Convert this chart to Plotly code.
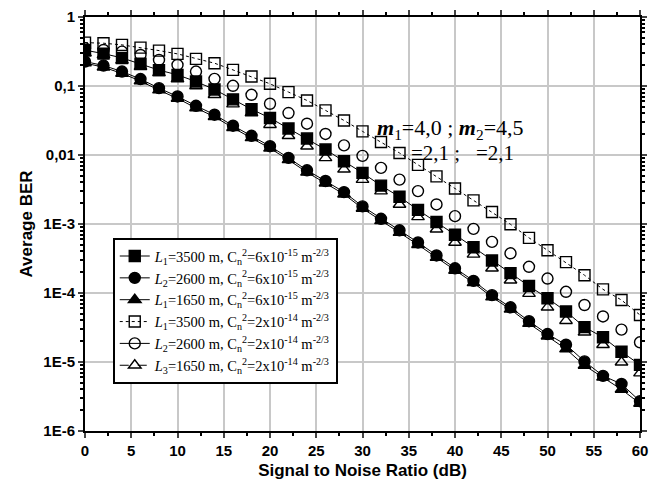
import plotly.graph_objects as go

snr = list(range(0, 62, 2))

# L1=3500 m, Cn2=6e-15 (filled squares)
ber_sq_f = [0.33, 0.295, 0.255, 0.21, 0.17, 0.145, 0.116, 0.089, 0.064, 0.046, 0.0344,
            0.0242, 0.0173, 0.012, 0.0081, 0.0055, 0.0036, 0.00248, 0.0016, 0.00107, 0.0007,
            0.00046, 0.000296, 0.000194, 0.000126, 8.4e-05, 5.4e-05, 3.2e-05, 2.28e-05, 1.41e-05, 9.1e-06]
# L2=2600 m, Cn2=6e-15 (filled circles)
ber_ci_f = [0.226, 0.198, 0.162, 0.126, 0.093, 0.0705, 0.0517, 0.0384, 0.0266, 0.019, 0.0134,
            0.0091, 0.006, 0.0042, 0.0029, 0.0018, 0.00119, 0.00081, 0.00054, 0.00035, 0.000228,
            0.00015, 9.3e-05, 6.2e-05, 3.9e-05, 2.54e-05, 1.78e-05, 1.02e-05, 6.3e-06, 4.8e-06, 2.7e-06]
# L1=1650 m, Cn2=6e-15 (filled triangles)
ber_tr_f = [0.215, 0.187, 0.152, 0.118, 0.087, 0.066, 0.048, 0.0358, 0.0248, 0.0177, 0.0125,
            0.0085, 0.0056, 0.0039, 0.0027, 0.00168, 0.00111, 0.00075, 0.0005, 0.000326, 0.000212,
            0.00014, 8.7e-05, 5.8e-05, 3.6e-05, 2.36e-05, 1.54e-05, 8.9e-06, 6.0e-06, 4.0e-06, 2.5e-06]
# L1=3500 m, Cn2=2e-14 (open squares)
ber_sq_o = [0.425, 0.417, 0.394, 0.36, 0.326, 0.292, 0.247, 0.214, 0.171, 0.137, 0.1076,
            0.0816, 0.0617, 0.0443, 0.0317, 0.022, 0.0154, 0.0107, 0.0072, 0.0049, 0.00327,
            0.0022, 0.00149, 0.00099, 0.00063, 0.000417, 0.00028, 0.000181, 0.000113, 7.9e-05, 4.8e-05]
# L2=2600 m, Cn2=2e-14 (open circles)
ber_ci_o = [0.352, 0.333, 0.315, 0.282, 0.239, 0.202, 0.162, 0.127, 0.1006, 0.0746, 0.0553,
            0.0406, 0.0284, 0.0202, 0.0138, 0.0097, 0.0065, 0.0044, 0.003, 0.00192, 0.0013,
            0.00085, 0.00055, 0.000376, 0.00024, 0.000162, 0.000104, 6.7e-05, 4.57e-05, 2.95e-05, 1.93e-05]
# L3=1650 m, Cn2=2e-14 (open triangles)
ber_tr_o = [0.3, 0.282, 0.235, 0.19, 0.155, 0.126, 0.1, 0.0746, 0.0547, 0.0406, 0.0275,
            0.019, 0.0134, 0.0091, 0.0062, 0.0044, 0.003, 0.00192, 0.00127, 0.00084, 0.00054,
            0.000363, 0.000228, 0.000153, 9.8e-05, 6.2e-05, 3.97e-05, 2.7e-05, 1.78e-05, 9.9e-06, 6.9e-06]

names = [
    "<i>L</i><sub>1</sub>=3500 m, C<sub>n</sub><sup>2</sup>=6x10<sup>-15</sup> m<sup>-2/3</sup>",
    "<i>L</i><sub>2</sub>=2600 m, C<sub>n</sub><sup>2</sup>=6x10<sup>-15</sup> m<sup>-2/3</sup>",
    "<i>L</i><sub>1</sub>=1650 m, C<sub>n</sub><sup>2</sup>=6x10<sup>-15</sup> m<sup>-2/3</sup>",
    "<i>L</i><sub>1</sub>=3500 m, C<sub>n</sub><sup>2</sup>=2x10<sup>-14</sup> m<sup>-2/3</sup>",
    "<i>L</i><sub>2</sub>=2600 m, C<sub>n</sub><sup>2</sup>=2x10<sup>-14</sup> m<sup>-2/3</sup>",
    "<i>L</i><sub>3</sub>=1650 m, C<sub>n</sub><sup>2</sup>=2x10<sup>-14</sup> m<sup>-2/3</sup>",
]

ytick_vals = [1, 0.1, 0.01, 1e-3, 1e-4, 1e-5, 1e-6]
ytick_text = ["1", "0,1", "0,01", "1E-3", "1E-4", "1E-5", "1E-6"]

fig = go.Figure()

series = [
    (ber_sq_f, "square", "solid", True),
    (ber_ci_f, "circle", "solid", True),
    (ber_tr_f, "triangle-up", "solid", True),
    (ber_sq_o, "square-open", "dot", True),
    (ber_ci_o, "circle-open", "solid", False),
    (ber_tr_o, "triangle-up-open", "dash", False),
]

for i, (vals, sym, dash, has_line) in enumerate(series):
    fig.add_trace(go.Scatter(
        x=snr, y=vals, mode="lines+markers" if has_line else "markers",
        name=names[i], showlegend=has_line, legendrank=i + 1,
        line=dict(color="black", width=1, dash=dash),
        marker=dict(symbol=sym, size=11, color="black", line=dict(color="black", width=1.4)),
    ))
    if not has_line:
        # legend entry drawn with its line style
        fig.add_trace(go.Scatter(
            x=[None], y=[None], mode="lines+markers", name=names[i], legendrank=i + 1,
            line=dict(color="black", width=1, dash=dash),
            marker=dict(symbol=sym, size=11, color="black", line=dict(color="black", width=1.4)),
        ))

axis_font = dict(family="Liberation Sans, Arial", size=15, color="black", weight="bold")

fig.update_xaxes(
    range=[0, 60], dtick=5, tick0=0, ticks="outside", ticklen=5, tickwidth=1.5,
    showline=True, linecolor="black", linewidth=2, mirror="ticks",
    showgrid=True, gridcolor="#c8c8c8", gridwidth=1.5, zeroline=False,
    minor=dict(dtick=2.5, ticks="outside", ticklen=3, tickcolor="black", showgrid=False),
    tickfont=axis_font, automargin=False,
    title=dict(text="Signal to Noise Ratio (dB)",
               font=dict(family="Liberation Sans, Arial", size=17, color="black", weight="bold"),
               standoff=8),
)
fig.update_yaxes(
    type="log", range=[-6, 0], tickvals=ytick_vals, ticktext=ytick_text,
    ticks="outside", ticklen=5, tickwidth=1.5,
    showline=True, linecolor="black", linewidth=2, mirror="ticks",
    showgrid=True, gridcolor="#c8c8c8", gridwidth=1.5, zeroline=False,
    minor=dict(dtick="D1", ticks="outside", ticklen=3, tickcolor="black", showgrid=False),
    tickfont=axis_font, automargin=False,
    title=dict(text="Average BER",
               font=dict(family="Liberation Sans, Arial", size=17, color="black", weight="bold"),
               standoff=6),
)

fig.add_annotation(
    xref="x", yref="paper", x=31.3, y=0.729, xanchor="left", yanchor="middle", showarrow=False,
    text="<b><i>m</i></b><sub>1</sub>=4,0 ; <b><i>m</i></b><sub>2</sub>=4,5",
    font=dict(family="Liberation Serif, Times New Roman", size=22, color="black"),
)
fig.add_annotation(
    xref="x", yref="paper", x=35.0, y=0.672, xanchor="left", yanchor="middle", showarrow=False,
    text="=2,1 ;   =2,1",
    font=dict(family="Liberation Serif, Times New Roman", size=21, color="black"),
)

# the page adds an 8px body margin, so the figure is sized to fit the 661x488 window
fig.update_layout(
    width=653, height=472,
    margin=dict(l=77, r=21, t=9, b=49),
    paper_bgcolor="white", plot_bgcolor="white",
    showlegend=True,
    legend=dict(
        x=0.05, y=0.466, xanchor="left", yanchor="top",
        bgcolor="white", bordercolor="black", borderwidth=2,
        font=dict(family="Liberation Serif, Times New Roman", size=14.5, color="black"),
        tracegroupgap=0, itemwidth=30,
    ),
)

fig.write_html("out.html")
